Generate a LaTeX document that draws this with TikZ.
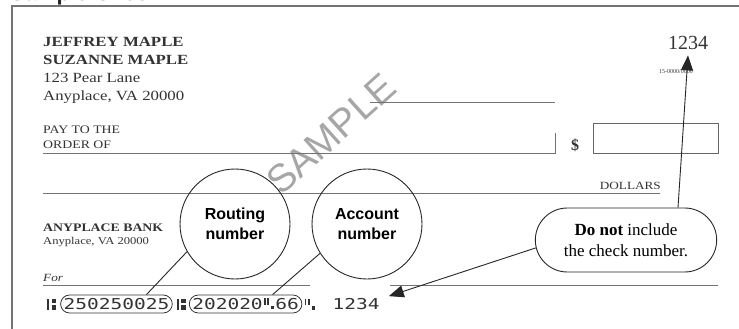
\documentclass[tikz,border=0pt]{standalone}
\usepackage{fontspec}
\setmainfont{Liberation Serif}
\setsansfont{Liberation Sans}
\newfontfamily\checkfont[FakeStretch=1.2]{Liberation Serif}
\newfontfamily\micrfont[FakeStretch=1.3]{DejaVu Sans Mono}
\usetikzlibrary{shapes.misc,arrows.meta}
%% MICR marks (no installed font has them)
\newcommand{\transitmark}{\rule{1.8pt}{11pt}\kern2.5pt\rlap{\raisebox{6.5pt}{\rule{4.5pt}{4.5pt}}}\rule{4.5pt}{4.5pt}}
\newcommand{\onusmark}{\kern1pt\raisebox{4.5pt}{\rule{1.8pt}{6.5pt}}\kern1.8pt\raisebox{4.5pt}{\rule{1.8pt}{6.5pt}}\kern1.8pt\rule{3.5pt}{3.5pt}\kern1pt}
\tikzset{
    checkline/.style={draw=black!55,line width=1pt},
    checkborder/.style={draw=black!55,line width=2.4pt},
    printed/.style={inner sep=0pt,text=black!80},
    bubble/.style={circle,draw=black!85,line width=0.9pt,minimum size=110pt,align=center,font=\sffamily\bfseries\fontsize{16}{20}\selectfont},
    callout/.style={rounded rectangle,draw=black!85,line width=0.9pt,minimum width=188pt,minimum height=64pt,align=center,font=\fontsize{17}{21}\selectfont},
    micrtxt/.style={inner xsep=1pt,inner ysep=2pt,font=\micrfont\fontsize{15}{15}\selectfont,text=black!80},
    micrbox/.style={micrtxt,rounded rectangle,draw=black!80,line width=0.8pt,minimum height=18pt,inner xsep=1pt},
    pointer/.style={draw=black!85,line width=0.9pt},
    bigtip/.style={pointer,-{Triangle[length=15pt,width=12pt]}}
}
\begin{document}
\begin{tikzpicture}[x=1pt,y=-1pt]
    \useasboundingbox (0,0) rectangle (739,329);
    %% heading and border
    \node[anchor=base west,inner sep=0pt,font=\sffamily\bfseries\fontsize{22}{24}\selectfont,text=black!85] (title) at (10,1) {Sample Check};
    \draw[checkborder] (12,329) -- (12,6) -- (739,6);
    %% watermark
    \node[font=\sffamily\fontsize{39}{39}\selectfont,text=black!35,rotate=42] (sample) at (331,134) {SAMPLE};
    %% owner
    \node[printed,anchor=base west,font=\checkfont\bfseries\fontsize{14}{16}\selectfont] (owner1) at (43,47) {JEFFREY MAPLE};
    \node[printed,anchor=base west,font=\checkfont\bfseries\fontsize{14}{16}\selectfont] (owner2) at (43,64) {SUZANNE MAPLE};
    \node[printed,anchor=base west,font=\checkfont\fontsize{14}{16}\selectfont] (street) at (43,83) {123 Pear Lane};
    \node[printed,anchor=base west,font=\checkfont\fontsize{14}{16}\selectfont] (town) at (43,100) {Anyplace, VA 20000};
    \node[printed,anchor=base,font=\fontsize{20}{22}\selectfont] (checkno) at (688,50) {1234};
    \node[printed,anchor=base,font=\fontsize{6}{7}\selectfont] (fraction) at (676,74) {15-0000/0000};
    %% lines of the check
    \draw[checkline] (370,102) -- (555,102);
    \node[printed,anchor=base west,font=\checkfont\fontsize{11.5}{13}\selectfont] (payto) at (43,133) {PAY TO THE};
    \node[printed,anchor=base west,font=\checkfont\fontsize{11.5}{13}\selectfont] (order) at (43,148) {ORDER OF};
    \draw[checkline] (43,153) -- (555,153) -- (555,133);
    \node[printed,anchor=base,font=\bfseries\fontsize{16}{18}\selectfont] (dollar) at (575,150) {\$};
    \node[draw=black!60,line width=1pt,anchor=north west,minimum width=125pt,minimum height=30pt,inner sep=0pt] (amount) at (593,123) {};
    \node[printed,anchor=base east,font=\checkfont\fontsize{11}{12}\selectfont] (dollars) at (661,189) {DOLLARS};
    \draw[checkline] (43,193) -- (660,193);
    \node[printed,anchor=base west,font=\checkfont\bfseries\fontsize{11.5}{13}\selectfont] (bank) at (43,231) {ANYPLACE BANK};
    \node[printed,anchor=base west,font=\checkfont\fontsize{10.5}{12}\selectfont] (banktown) at (43,244) {Anyplace, VA 20000};
    \node[printed,anchor=base west,font=\checkfont\itshape\fontsize{11}{12}\selectfont] (memo) at (43,281) {For};
    \draw[checkline] (43,285) -- (310,285);
    \draw[checkline] (390,285) -- (718,285);
    %% MICR line
    \node[micrtxt,anchor=west] (transitA) at (46,304) {\transitmark};
    \node[micrbox,anchor=west] (routingno) at ([xshift=3pt]transitA.east) {250250025};
    \node[micrtxt,anchor=west] (transitB) at ([xshift=3pt]routingno.east) {\transitmark};
    \node[micrbox,anchor=west] (accountno) at ([xshift=2pt]transitB.east) {202020\onusmark66};
    \node[micrtxt,anchor=west] (onus) at (accountno.east) {\onusmark};
    \node[micrtxt,anchor=west] (serialno) at ([xshift=14pt]onus.east) {1234};
    %% labels
    \node[bubble] (routing) at (235,224) {Routing\\number};
    \node[bubble] (account) at (367,224) {Account\\number};
    \node[callout] (note) at (626,240) {\textbf{Do not} include\\the check number.};
    \draw[pointer] (routing.210) -- ([xshift=30pt]routingno.north);
    \draw[pointer] (account.212) -- ([xshift=27pt]accountno.north);
    \draw[bigtip] ([xshift=52pt]note.north) -- ([yshift=-5pt]checkno.south);
    \draw[bigtip] (note.185) -- ([xshift=8pt]serialno.north east);
\end{tikzpicture}
\end{document}
